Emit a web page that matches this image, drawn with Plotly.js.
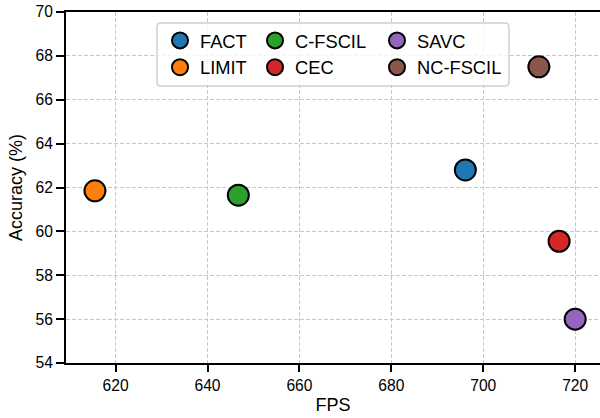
<!DOCTYPE html>
<html>
<head>
<meta charset="utf-8">
<script src="https://cdn.plot.ly/plotly-3.0.1.min.js"></script>
<style>html,body{margin:0;padding:0;background:#fff;}#chart{width:600px;height:418px;}</style>
</head>
<body>
<div id="chart"></div>
<script>
const methods = ["FACT", "C-FSCIL", "SAVC", "LIMIT", "CEC", "NC-FSCIL"];
const fps = [696.1, 646.7, 720.0, 615.5, 716.5, 712.1];
const accuracy = [62.8, 61.65, 56.0, 61.85, 59.55, 67.5];
const colors = ["#1f77b4", "#2ca02c", "#9467bd", "#ff7f0e", "#d62728", "#8c564b"];
const legendOf = ["legend", "legend2", "legend3", "legend", "legend2", "legend3"];
const xTicks = [620, 640, 660, 680, 700, 720];
const yTicks = [54, 56, 58, 60, 62, 64, 66, 68, 70];

const FONT = "Liberation Sans, Arial, Helvetica, sans-serif";
const ML = 66, MR = 0, MT = 12, MB = 55, W = 600, H = 418;
const PW = W - ML - MR, PH = H - MT - MB;
const px2x = p => (p - ML) / PW;
const px2y = p => 1 - (p - MT) / PH;

const traces = methods.map((m, i) => ({
  type: "scatter", mode: "markers", name: m,
  x: [fps[i]], y: [accuracy[i]],
  legend: legendOf[i],
  marker: {size: 21, color: colors[i], line: {color: "#000", width: 2}},
  cliponaxis: false,
  hoverinfo: "skip"
}));

// rounded legend frame
const bx0 = 157, bx1 = 509, by0 = 23, by1 = 86, r = 4;
function rr(x0, y0, x1, y1, r) {
  const X = p => px2x(p).toFixed(5), Y = p => px2y(p).toFixed(5);
  return `M ${X(x0+r)} ${Y(y0)} L ${X(x1-r)} ${Y(y0)} Q ${X(x1)} ${Y(y0)} ${X(x1)} ${Y(y0+r)} ` +
         `L ${X(x1)} ${Y(y1-r)} Q ${X(x1)} ${Y(y1)} ${X(x1-r)} ${Y(y1)} ` +
         `L ${X(x0+r)} ${Y(y1)} Q ${X(x0)} ${Y(y1)} ${X(x0)} ${Y(y1-r)} ` +
         `L ${X(x0)} ${Y(y0+r)} Q ${X(x0)} ${Y(y0)} ${X(x0+r)} ${Y(y0)} Z`;
}

const legBase = {
  bgcolor: "rgba(0,0,0,0)", borderwidth: 0,
  font: {family: FONT, size: 18.3, color: "#000"},
  orientation: "v", xanchor: "left", yanchor: "top",
  yref: "paper", xref: "paper", tracegroupgap: 0
};
const ly = px2y(22);

const layout = {
  width: W, height: H,
  margin: {l: ML, r: MR, t: MT, b: MB, pad: 0},
  paper_bgcolor: "#fff", plot_bgcolor: "#fff",
  font: {family: FONT, color: "#000"},
  showlegend: true,
  legend: Object.assign({}, legBase, {x: px2x(160), y: ly}),
  legend2: Object.assign({}, legBase, {x: px2x(255), y: ly}),
  legend3: Object.assign({}, legBase, {x: px2x(377), y: ly}),
  xaxis: {
    range: [609.2, 725.4], tickvals: xTicks, ticktext: xTicks.map(String),
    showline: true, linecolor: "#000", linewidth: 2, mirror: true,
    ticks: "outside", ticklen: 7, tickwidth: 2, tickcolor: "#000",
    tickfont: {family: FONT, size: 15.6, color: "#000"},
    showgrid: true, gridcolor: "#c8c8c8", gridwidth: 1, griddash: "4px,2px",
    zeroline: false,
    title: {text: "FPS", font: {family: FONT, size: 18, color: "#000"}, standoff: 6}
  },
  yaxis: {
    range: [54, 70], tickvals: yTicks, ticktext: yTicks.map(String),
    showline: true, linecolor: "#000", linewidth: 2, mirror: false,
    ticks: "outside", ticklen: 8, tickwidth: 2, tickcolor: "#000",
    tickfont: {family: FONT, size: 15.6, color: "#000"},
    showgrid: true, gridcolor: "#c8c8c8", gridwidth: 1, griddash: "4px,2px",
    zeroline: false,
    title: {text: "Accuracy (%)", font: {family: FONT, size: 18, color: "#000"}, standoff: 8}
  },
  shapes: [{
    type: "path", xref: "paper", yref: "paper", layer: "above",
    path: rr(bx0, by0, bx1, by1, r),
    fillcolor: "rgba(255,255,255,0.8)",
    line: {color: "#d0d0d0", width: 1.5}
  }]
};

Plotly.newPlot("chart", traces, layout, {displayModeBar: false, staticPlot: true});
</script>
</body>
</html>
